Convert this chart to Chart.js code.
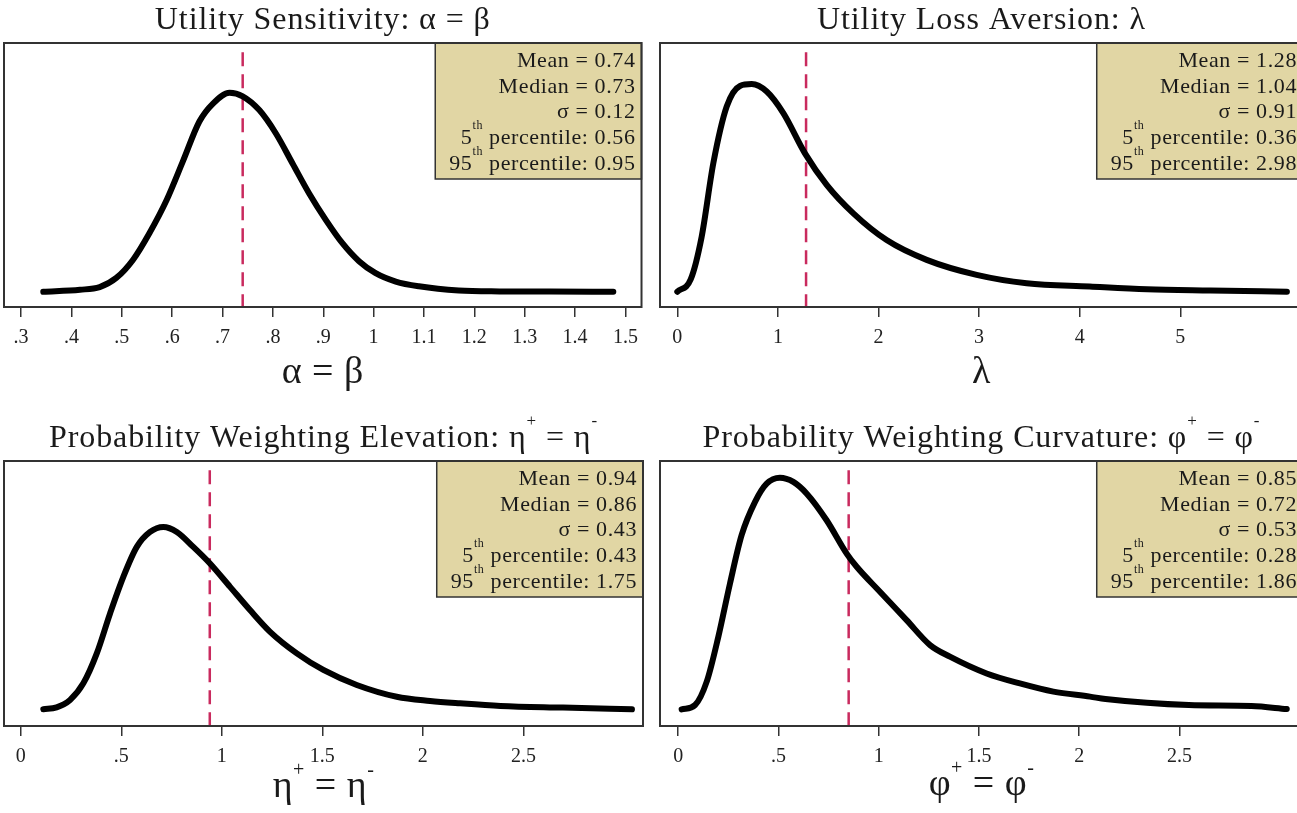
<!DOCTYPE html>
<html>
<head>
<meta charset="utf-8">
<script src="https://cdn.jsdelivr.net/npm/chart.js@4.4.0/dist/chart.umd.min.js"></script>
<style>
  html, body { margin: 0; padding: 0; background: #fff; overflow: hidden; }
  body { width: 1297px; height: 813px; position: relative; }
  canvas { position: absolute; }
</style>
</head>
<body>
<canvas id="alphaChart" width="647" height="405" style="left:0;top:0"></canvas>
<canvas id="lambdaChart" width="660" height="405" style="left:647px;top:0"></canvas>
<canvas id="etaChart" width="647" height="408" style="left:0;top:405px"></canvas>
<canvas id="phiChart" width="660" height="408" style="left:647px;top:405px"></canvas>
<script>
// 1. DATA (density curves)

// Utility sensitivity: alpha = beta
const alphaX = [0.344, 0.417, 0.456, 0.489, 0.522, 0.555, 0.589, 0.621, 0.654, 0.681, 0.714, 0.740, 0.773, 0.806, 0.839, 0.872, 0.905, 0.938, 0.971, 1.004, 1.044, 1.09, 1.169, 1.25, 1.35, 1.476];
const alphaY = [0, 0.033, 0.078, 0.23, 0.53, 0.98, 1.53, 2.17, 2.84, 3.14, 3.32, 3.26, 3.03, 2.64, 2.14, 1.64, 1.20, 0.81, 0.51, 0.31, 0.17, 0.09, 0.02, 0.005, 0.002, 0];
const alphaTicks = [0.3, 0.4, 0.5, 0.6, 0.7, 0.8, 0.9, 1.0, 1.1, 1.2, 1.3, 1.4, 1.5];
const alphaTickLabels = ['.3', '.4', '.5', '.6', '.7', '.8', '.9', '1', '1.1', '1.2', '1.3', '1.4', '1.5'];
const alphaStats = ['0.74', '0.73', '0.12', '0.56', '0.95'];
const alphaMean = 0.74;

// Utility loss aversion: lambda
const lambdaX = [0, 0.133, 0.242, 0.358, 0.491, 0.623, 0.74, 0.889, 1.054, 1.269, 1.485, 1.75, 2.081, 2.479, 2.976, 3.473, 4.10, 4.67, 5.3, 6.06];
const lambdaY = [0.001, 0.042, 0.184, 0.429, 0.618, 0.687, 0.693, 0.668, 0.596, 0.462, 0.357, 0.262, 0.173, 0.107, 0.057, 0.029, 0.018, 0.009, 0.005, 0.001];
const lambdaTicks = [0, 1, 2, 3, 4, 5];
const lambdaTickLabels = ['0', '1', '2', '3', '4', '5'];
const lambdaStats = ['1.28', '1.04', '0.91', '0.36', '2.98'];
const lambdaMean = 1.28;

// Probability weighting elevation: eta+ = eta-
const etaX = [0.112, 0.178, 0.245, 0.311, 0.378, 0.444, 0.51, 0.577, 0.643, 0.709, 0.776, 0.858, 0.941, 1.041, 1.14, 1.24, 1.373, 1.505, 1.671, 1.87, 2.036, 2.185, 2.386, 2.697, 3.04];
const etaY = [0, 0.01, 0.047, 0.13, 0.28, 0.48, 0.663, 0.813, 0.888, 0.913, 0.888, 0.813, 0.73, 0.613, 0.497, 0.388, 0.28, 0.197, 0.122, 0.063, 0.042, 0.03, 0.017, 0.0085, 0];
const etaTicks = [0, 0.5, 1, 1.5, 2, 2.5];
const etaTickLabels = ['0', '.5', '1', '1.5', '2', '2.5'];
const etaStats = ['0.94', '0.86', '0.43', '0.43', '1.75'];
const etaMean = 0.94;

// Probability weighting curvature: phi+ = phi-
const phiX = [0.017, 0.084, 0.142, 0.2, 0.258, 0.316, 0.383, 0.441, 0.507, 0.574, 0.641, 0.74, 0.84, 0.89, 1.006, 1.139, 1.256, 1.355, 1.538, 1.704, 1.871, 2.054, 2.131, 2.547, 2.859, 3.035];
const phiY = [0.003, 0.025, 0.142, 0.367, 0.633, 0.875, 1.042, 1.133, 1.163, 1.142, 1.083, 0.95, 0.783, 0.717, 0.592, 0.45, 0.325, 0.267, 0.183, 0.133, 0.092, 0.067, 0.055, 0.025, 0.02, 0.005];
const phiTicks = [0, 0.5, 1, 1.5, 2, 2.5];
const phiTickLabels = ['0', '.5', '1', '1.5', '2', '2.5'];
const phiStats = ['0.85', '0.72', '0.53', '0.28', '1.86'];
const phiMean = 0.85;

// 2. HELPERS

const SERIF = '"Liberation Serif", "DejaVu Serif", serif';

function statLines(s) {
  return [
    [['Mean = ' + s[0], 0]],
    [['Median = ' + s[1], 0]],
    [['σ = ' + s[2], 0]],
    [['5', 0], ['th', 1], [' percentile: ' + s[3], 0]],
    [['95', 0], ['th', 1], [' percentile: ' + s[4], 0]]
  ];
}

function measureRuns(ctx, runs, size, supSize) {
  let w = 0;
  runs.forEach(([t, sup]) => {
    ctx.font = (sup ? supSize : size) + 'px ' + SERIF;
    w += ctx.measureText(t).width;
  });
  return w;
}

// draws a line of text made of [text, isSuperscript] runs
function drawRuns(ctx, runs, x, y, align, size, supSize, supRise) {
  const w = measureRuns(ctx, runs, size, supSize);
  let cx = align === 'center' ? x - w / 2 : (align === 'right' ? x - w : x);
  ctx.textAlign = 'left';
  ctx.textBaseline = 'alphabetic';
  runs.forEach(([t, sup]) => {
    ctx.font = (sup ? supSize : size) + 'px ' + SERIF;
    ctx.fillText(t, cx, sup ? y - supRise : y);
    cx += ctx.measureText(t).width;
  });
}

// per-chart text (titles, axis titles, stats box)
const panelText = {
  alphaChart: {
    title: [['Utility Sensitivity: α = β', 0]],
    xTitle: [['α = β', 0]],
    xTitleOffset: 76,
    stats: statLines(alphaStats)
  },
  lambdaChart: {
    title: [['Utility Loss Aversion: λ', 0]],
    xTitle: [['λ', 0]],
    xTitleOffset: 76,
    stats: statLines(lambdaStats)
  },
  etaChart: {
    title: [['Probability Weighting Elevation: η', 0], ['+', 1], [' = η', 0], ['-', 1]],
    xTitle: [['η', 0], ['+', 1], [' = η', 0], ['-', 1]],
    xTitleOffset: 71,
    stats: statLines(etaStats)
  },
  phiChart: {
    title: [['Probability Weighting Curvature: φ', 0], ['+', 1], [' = φ', 0], ['-', 1]],
    xTitle: [['φ', 0], ['+', 1], [' = φ', 0], ['-', 1]],
    xTitleOffset: 69,
    stats: statLines(phiStats)
  }
};

const panelPlugin = {
  id: 'panelDecor',
  afterDatasetsDraw(chart) {
    const info = panelText[chart.canvas.id];
    const { ctx, chartArea: a } = chart;
    ctx.save();

    // stats box
    const size = 22, supSize = 12, lineGap = 25.8;
    ctx.letterSpacing = '0.6px';
    let maxW = 0;
    info.stats.forEach(l => { maxW = Math.max(maxW, measureRuns(ctx, l, size, supSize)); });
    const textRight = a.right - 6;
    const boxLeft = textRight - maxW - 14;
    const boxBottom = a.top + 136;
    ctx.fillStyle = '#e1d6a4';
    ctx.fillRect(boxLeft, a.top, a.right - boxLeft, boxBottom - a.top);
    ctx.strokeStyle = '#333';
    ctx.lineWidth = 1.5;
    ctx.strokeRect(boxLeft, a.top, a.right - boxLeft, boxBottom - a.top);
    ctx.fillStyle = '#1a1a1a';
    info.stats.forEach((l, i) => {
      drawRuns(ctx, l, textRight, a.top + 23.7 + i * lineGap, 'right', size, supSize, 15);
    });

    // frame
    ctx.strokeStyle = '#333';
    ctx.lineWidth = 2;
    ctx.strokeRect(a.left, a.top, a.right - a.left, a.bottom - a.top);

    // titles
    const cx = (a.left + a.right) / 2;
    ctx.fillStyle = '#1a1a1a';
    ctx.letterSpacing = '0.9px';
    drawRuns(ctx, info.title, cx, a.top - 14.5, 'center', 32, 17, 21);
    ctx.letterSpacing = '0.5px';
    drawRuns(ctx, info.xTitle, cx, a.bottom + info.xTitleOffset, 'center', 38, 20, 21);
    ctx.restore();
  }
};

// 3. BUILD CHARTS

function buildPanel(id, xs, ys, mean, ticks, tickLabels, xRange, yRange, pad, xHeight) {
  const ctx = document.getElementById(id).getContext('2d');
  const yTop = yRange[1] - (yRange[1] - yRange[0]) * 0.035;
  return new Chart(ctx, {
    type: 'scatter',
    data: {
      datasets: [
        {
          data: xs.map((x, i) => ({ x, y: ys[i] })),
          showLine: true,
          borderColor: '#000',
          borderWidth: 6,
          borderCapStyle: 'round',
          borderJoinStyle: 'round',
          cubicInterpolationMode: 'monotone',
          pointRadius: 0
        },
        {
          data: [{ x: mean, y: yTop }, { x: mean, y: yRange[0] }],
          showLine: true,
          borderColor: '#c92a5e',
          borderWidth: 2.5,
          borderDash: [14, 8],
          pointRadius: 0
        }
      ]
    },
    options: {
      responsive: false,
      animation: false,
      layout: { padding: pad },
      plugins: { legend: { display: false }, tooltip: { enabled: false }, title: { display: false } },
      scales: {
        x: {
          type: 'linear',
          min: xRange[0],
          max: xRange[1],
          afterBuildTicks: axis => { axis.ticks = ticks.map(v => ({ value: v })); },
          afterFit: axis => { axis.height = xHeight; },
          ticks: {
            autoSkip: false,
            maxRotation: 0,
            padding: 9,
            color: '#222',
            font: { family: SERIF, size: 20 },
            callback: (v, i) => tickLabels[i]
          },
          grid: { drawOnChartArea: false, drawTicks: true, tickLength: 10, color: '#333', lineWidth: 1.5 },
          border: { display: false }
        },
        y: { display: false, min: yRange[0], max: yRange[1] }
      }
    },
    plugins: [panelPlugin]
  });
}

document.addEventListener('DOMContentLoaded', () => {
  buildPanel('alphaChart', alphaX, alphaY, alphaMean, alphaTicks, alphaTickLabels,
    [0.266, 1.532], [-0.255, 4.15], { left: 4, right: 4, top: 43, bottom: 0 }, 98);
  buildPanel('lambdaChart', lambdaX, lambdaY, lambdaMean, lambdaTicks, lambdaTickLabels,
    [-0.172, 6.22], [-0.05, 0.83], { left: 13, right: 4, top: 43, bottom: 0 }, 98);
  buildPanel('etaChart', etaX, etaY, etaMean, etaTicks, etaTickLabels,
    [-0.0836, 3.095], [-0.0835, 1.243], { left: 4, right: 4, top: 56, bottom: 0 }, 87);
  buildPanel('phiChart', phiX, phiY, phiMean, phiTicks, phiTickLabels,
    [-0.091, 3.116], [-0.08, 1.2465], { left: 13, right: 4, top: 56, bottom: 0 }, 87);
});
</script>
</body>
</html>
